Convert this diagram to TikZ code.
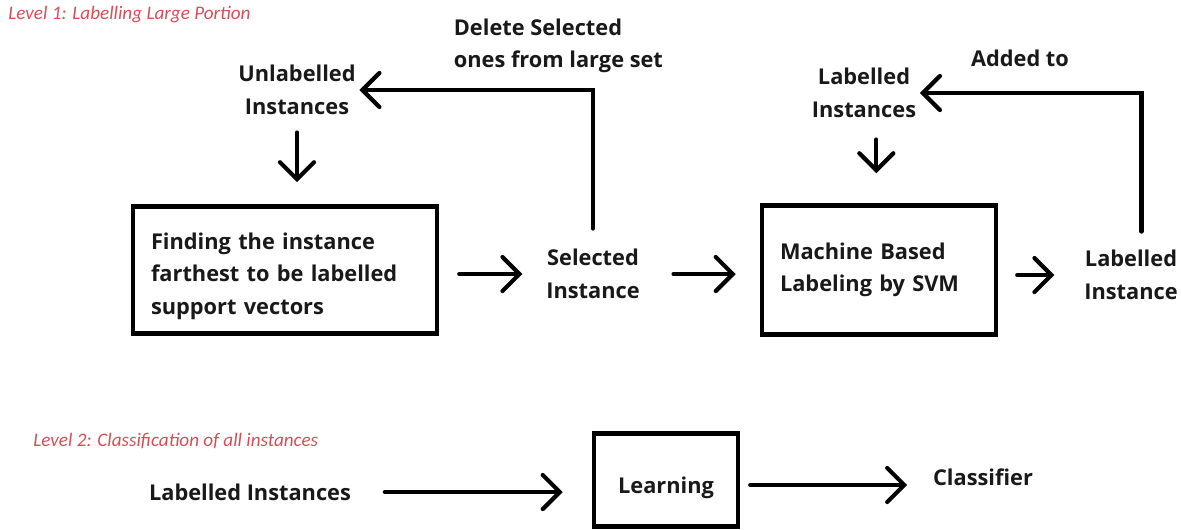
\documentclass[tikz,border=0pt]{standalone}
\usepackage{fontspec}
\setmainfont{Open Sans}
\newfontfamily\lvlfont{Carlito}
\usetikzlibrary{arrows.meta}

\definecolor{lvlred}{RGB}{214,78,88}

\tikzset{
  txt/.style={font=\bfseries\fontsize{12.4}{18.5}\selectfont, text=black!90, inner sep=2pt},
  box/.style={txt, draw=black, line width=2.6pt, inner xsep=0.36cm},
  lvl/.style={font=\lvlfont\itshape\fontsize{10.9}{13}\selectfont, text=lvlred, anchor=west, inner sep=0pt},
  arr/.style={line width=2.4pt, -{Straight Barb[length=0.34cm,width=0.68cm,line cap=round]}, line cap=round}
}

\begin{document}
\begin{tikzpicture}[x=0.02cm,y=-0.02cm]
    \useasboundingbox (0,0) rectangle (1181,529);

    % level 1
    \node[lvl] (lvl1) at (8,14) {Level 1: Labelling Large Portion};

    \node[txt, align=center] (unl) at (297,90) {Unlabelled\\Instances};
    \node[txt, align=left, anchor=west] (del) at (450,46) {Delete Selected\\ones from large set};
    \node[box, align=left, text width=5.36cm, minimum height=2.54cm] (find) at (285,270)
        {\rule{0pt}{0.57cm}Finding the instance\\farthest to be labelled\\support vectors};
    \node[txt, align=center] (sel) at (593,274) {Selected\\Instance};
    \node[box, align=left, text width=3.96cm, minimum height=2.58cm] (mbl) at (879,270)
        {Machine Based\\Labeling by SVM};
    \node[txt, align=center] (lab) at (1131,275) {Labelled\\Instance};
    \node[txt, align=center] (labi) at (864,93) {Labelled\\Instances};
    \node[txt] (add) at (1020,58) {Added to};

    \draw[arr, shorten <=0.28cm, shorten >=0.44cm] (unl.south) -- (unl.south |- find.north);
    \draw[arr, shorten <=0.4cm, shorten >=0.4cm] (find.east |- sel) -- (sel.west);
    \draw[arr, shorten <=0.34cm] (sel.north) |- (unl.east);
    \draw[arr, shorten <=0.6cm, shorten >=0.48cm] (sel.east) -- (sel -| mbl.west);
    \draw[arr, shorten <=0.38cm, shorten >=0.52cm] (mbl.east |- lab) -- (lab.west);
    \draw[arr, shorten <=0.3cm] ([xshift=6]lab.north) |- (labi.east);
    \draw[arr, shorten <=0.36cm, shorten >=0.6cm] ([xshift=7]labi.south) -- ([xshift=7]labi.south |- mbl.north);

    % level 2
    \node[lvl] (lvl2) at (33,441) {Level 2: Classification of all instances};

    \node[txt] (li) at (250,492) {Labelled Instances};
    \node[box, minimum width=2.88cm, minimum height=1.86cm, inner xsep=0pt] (learn) at (666,480)
        {\raisebox{-0.26cm}[0pt][0pt]{Learning}};
    \node[txt] (cls) at (983,477) {Classifier};

    \draw[arr, shorten <=0.6cm, shorten >=0.58cm] (li.east) -- (li.east -| learn.west);
    \draw[arr, shorten <=0.2cm, shorten >=0.44cm] (learn.east |- 0,485) -- (cls.west |- 0,485);
\end{tikzpicture}
\end{document}
